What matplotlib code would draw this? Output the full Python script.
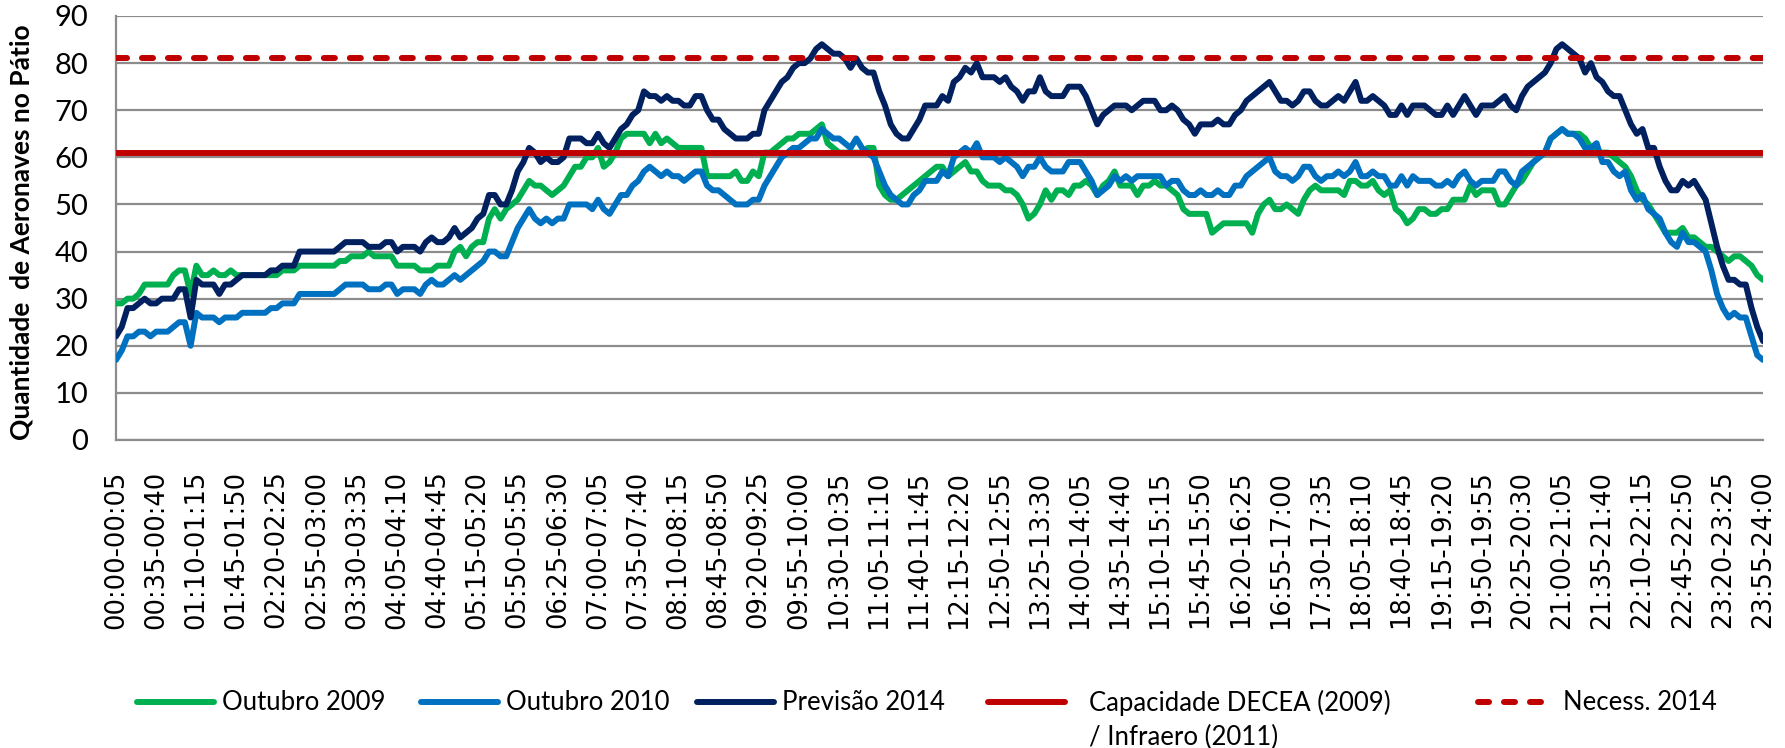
import numpy as np
import matplotlib
matplotlib.use("Agg")
import matplotlib.pyplot as plt
from matplotlib.lines import Line2D

# ---------------- data (5-minute slots, 00:00-00:05 ... 23:55-24:00) ----------------
outubro_2009 = [
    29, 29, 30, 30, 31, 33, 33, 33, 33, 33, 35, 36,
    36, 31, 37, 35, 35, 36, 35, 35, 36, 35, 35, 35,
    35, 35, 35, 35, 35, 36, 36, 36, 37, 37, 37, 37,
    37, 37, 37, 38, 38, 39, 39, 39, 40, 39, 39, 39,
    39, 37, 37, 37, 37, 36, 36, 36, 37, 37, 37, 40,
    41, 39, 41, 42, 42, 47, 49, 47, 49, 50, 51, 53,
    55, 54, 54, 53, 52, 53, 54, 56, 58, 58, 60, 60,
    62, 58, 59, 61, 64, 65, 65, 65, 65, 63, 65, 63,
    64, 63, 62, 62, 62, 62, 62, 56, 56, 56, 56, 56,
    57, 55, 55, 57, 56, 61, 61, 62, 63, 64, 64, 65,
    65, 65, 66, 67, 63, 62, 61, 61, 61, 61, 61, 62,
    62, 54, 52, 51, 51, 52, 53, 54, 55, 56, 57, 58,
    58, 56, 57, 58, 59, 57, 57, 55, 54, 54, 54, 53,
    53, 52, 50, 47, 48, 50, 53, 51, 53, 53, 52, 54,
    54, 55, 54, 52, 54, 55, 57, 54, 54, 54, 52, 54,
    54, 55, 54, 54, 53, 52, 49, 48, 48, 48, 48, 44,
    45, 46, 46, 46, 46, 46, 44, 48, 50, 51, 49, 49,
    50, 49, 48, 51, 53, 54, 53, 53, 53, 53, 52, 55,
    55, 54, 54, 55, 53, 52, 53, 49, 48, 46, 47, 49,
    49, 48, 48, 49, 49, 51, 51, 51, 54, 52, 53, 53,
    53, 50, 50, 52, 54, 55, 57, 59, 60, 61, 64, 65,
    66, 65, 65, 65, 64, 62, 61, 61, 61, 60, 59, 58,
    56, 53, 51, 50, 48, 46, 44, 44, 44, 45, 43, 43,
    42, 41, 41, 40, 39, 38, 39, 39, 38, 37, 35, 34,
]

outubro_2010 = [
    17, 19, 22, 22, 23, 23, 22, 23, 23, 23, 24, 25,
    25, 20, 27, 26, 26, 26, 25, 26, 26, 26, 27, 27,
    27, 27, 27, 28, 28, 29, 29, 29, 31, 31, 31, 31,
    31, 31, 31, 32, 33, 33, 33, 33, 32, 32, 32, 33,
    33, 31, 32, 32, 32, 31, 33, 34, 33, 33, 34, 35,
    34, 35, 36, 37, 38, 40, 40, 39, 39, 42, 45, 47,
    49, 47, 46, 47, 46, 47, 47, 50, 50, 50, 50, 49,
    51, 49, 48, 50, 52, 52, 54, 55, 57, 58, 57, 56,
    57, 56, 56, 55, 56, 57, 57, 54, 53, 53, 52, 51,
    50, 50, 50, 51, 51, 54, 56, 58, 60, 61, 62, 62,
    63, 64, 64, 66, 65, 64, 64, 63, 62, 64, 62, 61,
    60, 57, 54, 52, 51, 50, 50, 52, 53, 55, 55, 55,
    57, 56, 60, 61, 62, 61, 63, 60, 60, 60, 59, 60,
    59, 58, 56, 58, 58, 60, 58, 57, 57, 57, 59, 59,
    59, 57, 55, 52, 53, 54, 56, 55, 56, 55, 56, 56,
    56, 56, 56, 54, 55, 55, 53, 52, 52, 53, 52, 52,
    53, 52, 52, 54, 54, 56, 57, 58, 59, 60, 57, 56,
    56, 55, 56, 58, 58, 56, 55, 56, 56, 57, 56, 57,
    59, 56, 56, 57, 56, 56, 54, 54, 56, 54, 56, 55,
    55, 55, 54, 54, 55, 54, 56, 57, 55, 54, 55, 55,
    55, 57, 57, 55, 54, 57, 58, 59, 60, 61, 64, 65,
    66, 65, 65, 64, 62, 62, 63, 59, 59, 57, 56, 57,
    53, 51, 52, 49, 48, 47, 44, 42, 41, 44, 42, 42,
    41, 40, 36, 31, 28, 26, 27, 26, 26, 22, 18, 17,
]

previsao_2014 = [
    22, 24, 28, 28, 29, 30, 29, 29, 30, 30, 30, 32,
    32, 26, 34, 33, 33, 33, 31, 33, 33, 34, 35, 35,
    35, 35, 35, 36, 36, 37, 37, 37, 40, 40, 40, 40,
    40, 40, 40, 41, 42, 42, 42, 42, 41, 41, 41, 42,
    42, 40, 41, 41, 41, 40, 42, 43, 42, 42, 43, 45,
    43, 44, 45, 47, 48, 52, 52, 50, 50, 53, 57, 59,
    62, 61, 59, 60, 59, 59, 60, 64, 64, 64, 63, 63,
    65, 63, 62, 64, 66, 67, 69, 70, 74, 73, 73, 72,
    73, 72, 72, 71, 71, 73, 73, 70, 68, 68, 66, 65,
    64, 64, 64, 65, 65, 70, 72, 74, 76, 77, 79, 80,
    80, 81, 83, 84, 83, 82, 82, 81, 79, 81, 79, 78,
    78, 74, 71, 67, 65, 64, 64, 66, 68, 71, 71, 71,
    73, 72, 76, 77, 79, 78, 80, 77, 77, 77, 76, 77,
    75, 74, 72, 74, 74, 77, 74, 73, 73, 73, 75, 75,
    75, 73, 70, 67, 69, 70, 71, 71, 71, 70, 71, 72,
    72, 72, 70, 70, 71, 70, 68, 67, 65, 67, 67, 67,
    68, 67, 67, 69, 70, 72, 73, 74, 75, 76, 74, 72,
    72, 71, 72, 74, 74, 72, 71, 71, 72, 73, 72, 74,
    76, 72, 72, 73, 72, 71, 69, 69, 71, 69, 71, 71,
    71, 70, 69, 69, 71, 69, 71, 73, 71, 69, 71, 71,
    71, 72, 73, 71, 70, 73, 75, 76, 77, 78, 80, 83,
    84, 83, 82, 81, 78, 80, 77, 76, 74, 73, 73, 70,
    67, 65, 66, 62, 62, 58, 55, 53, 53, 55, 54, 55,
    53, 51, 46, 41, 37, 34, 34, 33, 33, 28, 24, 21,
]

capacidade_decea = 61
necess_2014 = 81

tick_labels = [
    "00:00-00:05", "00:35-00:40", "01:10-01:15", "01:45-01:50", "02:20-02:25",
    "02:55-03:00", "03:30-03:35", "04:05-04:10", "04:40-04:45", "05:15-05:20",
    "05:50-05:55", "06:25-06:30", "07:00-07:05", "07:35-07:40", "08:10-08:15",
    "08:45-08:50", "09:20-09:25", "09:55-10:00", "10:30-10:35", "11:05-11:10",
    "11:40-11:45", "12:15-12:20", "12:50-12:55", "13:25-13:30", "14:00-14:05",
    "14:35-14:40", "15:10-15:15", "15:45-15:50", "16:20-16:25", "16:55-17:00",
    "17:30-17:35", "18:05-18:10", "18:40-18:45", "19:15-19:20", "19:50-19:55",
    "20:25-20:30", "21:00-21:05", "21:35-21:40", "22:10-22:15", "22:45-22:50",
    "23:20-23:25", "23:55-24:00",
]

series_names = ["Outubro 2009", "Outubro 2010", "Previsão 2014",
                "Capacidade DECEA (2009)", "Necess. 2014"]
second_line_label = "/ Infraero (2011)"

# ---------------- styling ----------------
GREEN = "#00B050"
BLUE = "#0070C0"
NAVY = "#002060"
RED = "#C00000"
GRID = "#8C8C8C"
LW = 4.3
SANS = ["Lato", "DejaVu Sans"]
LEG_FS = 18.5

W, H = 1785, 748
fig = plt.figure(figsize=(W / 100, H / 100), dpi=100)
ax = fig.add_axes([116 / W, 1 - 440 / H, (1763 - 116) / W, (440 - 16) / H])

x = np.arange(len(previsao_2014))
ax.plot(x, outubro_2009, color=GREEN, lw=LW, solid_joinstyle="round",
        solid_capstyle="round", zorder=3)
ax.plot(x, outubro_2010, color=BLUE, lw=LW, solid_joinstyle="round",
        solid_capstyle="round", zorder=4)
ax.plot(x, previsao_2014, color=NAVY, lw=LW, solid_joinstyle="round",
        solid_capstyle="round", zorder=5)
ax.axhline(capacidade_decea, color=RED, lw=LW, zorder=6)
ax.axhline(necess_2014, color=RED, lw=LW, dashes=(1.85, 2.5),
           dash_capstyle="round", zorder=6)

ax.set_xlim(0, len(x) - 1)
ax.set_ylim(0, 90)
ax.set_yticks(np.arange(0, 91, 10))
ax.yaxis.grid(True, color=GRID, lw=1.6, zorder=0)
ax.set_axisbelow(True)
for s in ["top", "right"]:
    ax.spines[s].set_visible(False)
for s in ["left", "bottom"]:
    ax.spines[s].set_color(GRID)
    ax.spines[s].set_linewidth(1.6)

ax.set_xticks(np.arange(0, len(x), 7))
ax.set_xticklabels(tick_labels, rotation=90, family="DejaVu Sans",
                   fontsize=18.5, va="top", ha="center")
ax.tick_params(axis="x", length=0, pad=22)
ax.tick_params(axis="y", length=0, pad=20)
for t in ax.get_yticklabels():
    t.set_family(SANS)
    t.set_fontsize(21)

fig.text(22 / W, 1 - 232 / H, "Quantidade  de Aeronaves no Pátio",
         rotation=90, ha="center", va="center", family=SANS,
         fontweight="bold", fontsize=19)

# ---------------- legend ----------------
handles = [
    Line2D([], [], color=GREEN, lw=LW, solid_capstyle="round"),
    Line2D([], [], color=BLUE, lw=LW, solid_capstyle="round"),
    Line2D([], [], color=NAVY, lw=LW, solid_capstyle="round"),
    Line2D([], [], color=RED, lw=LW, solid_capstyle="round"),
    Line2D([], [], color=RED, lw=LW, dashes=(1.85, 2.5), dash_capstyle="round"),
]
leg_x = [137, 421, 697, 988, 1478]
pads = [0.3, 0.3, 0.3, 0.95, 0.3]
legend_y = 1 - 703 / H
legs = []
for h, name, lx, pd in zip(handles, series_names, leg_x, pads):
    lg = fig.legend([h], [name], loc="center left",
                    bbox_to_anchor=(lx / W, legend_y), frameon=False,
                    prop={"family": SANS, "size": LEG_FS},
                    handlelength=3.0, handletextpad=pd,
                    borderpad=0, borderaxespad=0)
    legs.append(lg)

fig.canvas.draw()
t4 = legs[3].get_texts()[0]
bb = t4.get_window_extent()
fig.text(bb.x0 / W, 1 - 737 / H, second_line_label, ha="left", va="center",
         family=SANS, fontsize=LEG_FS)

fig.savefig("out.png", dpi=100)
